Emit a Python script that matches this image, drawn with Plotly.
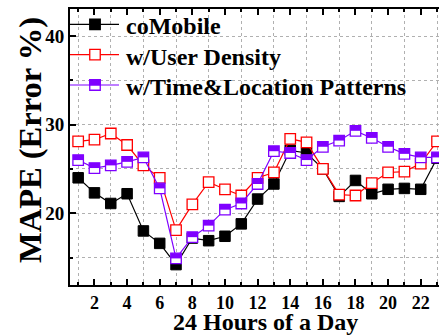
import plotly.graph_objects as go

hours = list(range(1, 24))
comobile = [24.0, 22.3, 21.1, 22.2, 18.0, 16.6, 14.2, 17.2, 16.9, 17.4, 18.8, 21.6,
            23.3, 27.1, 26.8, 25.0, 21.9, 23.7, 22.2, 22.7, 22.8, 22.7, 26.2]
user_density = [28.1, 28.3, 29.0, 27.7, 25.4, 24.0, 18.1, 21.0, 23.5, 22.7, 22.0, 24.0,
                24.6, 28.4, 28.0, 25.0, 22.1, 22.0, 23.4, 24.6, 24.7, 25.6, 28.1]
time_location = [26.0, 25.1, 25.4, 25.8, 26.3, 22.8, 14.9, 17.3, 18.6, 20.4, 21.1, 23.3,
                 27.0, 26.8, 26.0, 27.5, 28.2, 29.3, 28.5, 27.5, 26.7, 26.3, 26.3]
series_names = ["coMobile", "w/User Density", "w/Time&Location Patterns"]
x_ticks = [2, 4, 6, 8, 10, 12, 14, 16, 18, 20, 22]
y_ticks = [20, 30, 40]

W, H = 439, 335
M_L, M_R, M_T, M_B = 70, 0, 9, 50
Y_RANGE = [11.9, 43.05]
X_RANGE = [0.5, 23.12]
FULL_X = [0.5, 24.5]

FONT = "Liberation Serif"
BLACK = "#000000"
RED = "#ff0000"
PURPLE = "#7f00ff"
MS = 10.5

plot_w = W - M_L - M_R
plot_h = H - M_T - M_B


def px_x(px):
    return (px - M_L) / plot_w


def px_y(py):
    return (H - M_B - py) / plot_h


fig = go.Figure()

fig.add_trace(go.Scatter(
    x=hours, y=comobile, name=series_names[0], mode="lines+markers",
    line=dict(color=BLACK, width=1.2),
    marker=dict(symbol="square", size=MS, color=BLACK, line=dict(color=BLACK, width=1))))

fig.add_trace(go.Scatter(
    x=hours, y=user_density, name=series_names[1], mode="lines+markers",
    line=dict(color=RED, width=1.2),
    marker=dict(symbol="square", size=MS, color="white", line=dict(color=RED, width=1.3))))

fig.add_trace(go.Scatter(
    x=hours, y=time_location, name=series_names[2], mode="lines+markers",
    line=dict(color=PURPLE, width=1.2),
    marker=dict(symbol="square", size=MS, color="white", line=dict(color=PURPLE, width=1.3))))

# upper half of the purple squares is filled: a thick horizontal bar marker
px_per_unit = plot_h / (Y_RANGE[1] - Y_RANGE[0])
half_shift = (MS / 4) / px_per_unit
fig.add_trace(go.Scatter(
    x=hours, y=[v + half_shift for v in time_location], mode="markers",
    showlegend=False, hoverinfo="skip",
    marker=dict(symbol="line-ew", size=MS / 1.4, color=PURPLE,
                line=dict(color=PURPLE, width=MS / 2))))

grid = dict(gridcolor="#b0b0b0", griddash="dot", gridwidth=1)

# vertical dotted grid at the odd hours, drawn as its own tick set
fig.update_xaxes(
    range=X_RANGE, tickvals=x_ticks, showgrid=False, zeroline=False,
    showline=True, linecolor=BLACK, linewidth=2, mirror="ticks",
    ticks="inside", ticklen=6, tickwidth=1.5, tickcolor=BLACK,
    tickfont=dict(family=FONT, size=18, color=BLACK, weight="bold"),
    minor=dict(tick0=1, dtick=2, ticks="inside", ticklen=3, tickcolor=BLACK,
               showgrid=True, **grid))

fig.update_yaxes(
    range=Y_RANGE, tickvals=y_ticks, zeroline=False, showgrid=True, **grid,
    showline=True, linecolor=BLACK, linewidth=2, mirror=False,
    ticks="inside", ticklen=6, tickwidth=1.5, tickcolor=BLACK,
    tickfont=dict(family=FONT, size=19, color=BLACK, weight="bold"),
    minor=dict(tick0=15, dtick=5, ticks="inside", ticklen=3, tickcolor=BLACK,
               showgrid=True, **grid))

fig.add_annotation(
    text="24 Hours of a Day", xref="x", yref="paper",
    x=(FULL_X[0] + FULL_X[1]) / 2, y=px_y(322),
    xanchor="center", yanchor="middle", showarrow=False,
    font=dict(family=FONT, size=24, color=BLACK, weight="bold"))

fig.add_annotation(
    text="MAPE (Error %)", xref="paper", yref="paper",
    x=px_x(30), y=px_y(140), textangle=-90,
    xanchor="center", yanchor="middle", showarrow=False,
    font=dict(family=FONT, size=32.5, color=BLACK, weight="bold"))

# legend box in the upper-left corner of the plot
legend_rows = [24.3, 54.6, 85.0]
legend_styles = [
    dict(line=BLACK, fill=BLACK, half=None),
    dict(line=RED, fill="white", half=None),
    dict(line=PURPLE, fill="white", half=PURPLE),
]
LEG_X0, LEG_X1, LEG_MX, LEG_TX = 70, 119, 95, 124
half = MS / 2
for name, row, st in zip(series_names, legend_rows, legend_styles):
    fig.add_shape(type="line", xref="paper", yref="paper",
                  x0=px_x(LEG_X0), x1=px_x(LEG_X1), y0=px_y(row), y1=px_y(row),
                  line=dict(color=st["line"], width=1.2))
    fig.add_shape(type="rect", xref="paper", yref="paper",
                  x0=px_x(LEG_MX - half), x1=px_x(LEG_MX + half),
                  y0=px_y(row + half), y1=px_y(row - half),
                  fillcolor=st["fill"], line=dict(color=st["line"], width=1.3))
    if st["half"]:
        fig.add_shape(type="rect", xref="paper", yref="paper",
                      x0=px_x(LEG_MX - half), x1=px_x(LEG_MX + half),
                      y0=px_y(row), y1=px_y(row - half),
                      fillcolor=st["half"], line=dict(color=st["half"], width=1.3))
    fig.add_annotation(
        text=name, xref="paper", yref="paper", x=px_x(LEG_TX), y=px_y(row + 2),
        xanchor="left", yanchor="middle", showarrow=False,
        font=dict(family=FONT, size=24, color=BLACK, weight="bold"))

fig.update_layout(
    width=W, height=H, margin=dict(l=M_L, r=M_R, t=M_T, b=M_B),
    paper_bgcolor="white", plot_bgcolor="white", showlegend=False,
)

fig.write_html("out.html")
